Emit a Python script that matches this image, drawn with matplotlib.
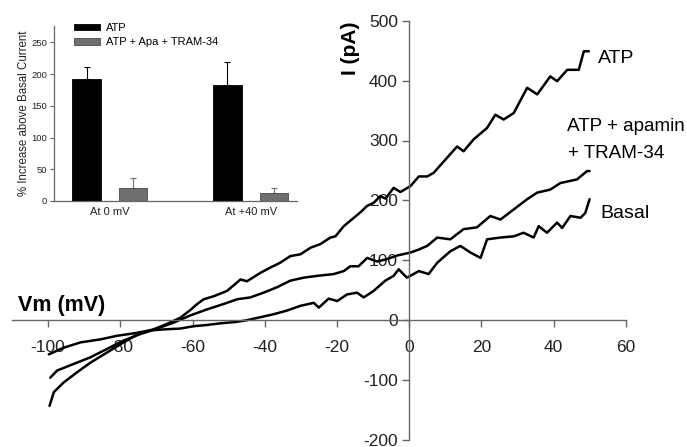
import matplotlib
matplotlib.use("Agg")
import matplotlib.pyplot as plt

plt.rcParams['font.family'] = ['Liberation Sans', 'DejaVu Sans']

# ---------------- main I-V traces ----------------
atp_v = [-99.6, -98.4, -95.7, -92, -88.3, -83.7, -79.1, -74.4, -70.7, -67, -63.4, -60.6,
         -58.7, -56.9, -54.1, -50.4, -46.7, -44.9, -41.2, -38.4, -35.7, -32.9, -30.1, -27.3,
         -24.6, -21.8, -20.4, -18.1, -16.3, -13.5, -11.6, -9.8, -8, -6.5, -4.3, -2.4, 0.4,
         2.7, 5, 6.8, 9.6, 13.3, 15.1, 17.9, 21.6, 23.9, 26.2, 29, 32.7, 35.5, 39.1, 41,
         43.8, 47, 48.4, 49.8]
atp_i = [-143, -120, -104, -87, -71, -54, -37, -21, -15, -6, 4, 17,
         27, 35, 40, 49, 68, 65, 79, 88, 96, 107, 110, 121,
         127, 138, 140, 157, 166, 180, 191, 196, 207, 203, 221, 214, 224,
         240, 240, 246, 265, 290, 282, 302, 321, 343, 335, 346, 388, 377, 407, 399,
         418, 418, 449, 449]

apa_v = [-99.4, -97.5, -92.9, -88.3, -83.7, -79.1, -74.4, -70.7, -65.2, -60.6, -56, -51.4,
         -47.6, -44, -40.3, -36.6, -32.9, -29.2, -25.5, -20.9, -18.1, -16.3, -14, -11.6,
         -8.9, -6.1, -3.3, 0.4, 2.7, 5, 7.8, 11.4, 15.1, 18.8, 22.5, 25.3, 29, 32.7, 35.5,
         39.1, 41.9, 46.5, 49.3, 50]
apa_i = [-96, -84, -73, -62, -48, -34, -23, -16, -4, 8, 18, 27,
         35, 38, 46, 55, 66, 71, 74, 77, 82, 90, 90, 104,
         98, 102, 108, 113, 118, 124, 138, 135, 152, 155, 174, 168, 185, 202, 213,
         218, 229, 235, 249, 249]

bas_v = [-99.8, -95.7, -91, -85.5, -80.9, -76.3, -71.7, -67, -63.4, -59.7, -56, -52, -48,
         -44.9, -41.2, -37.5, -33.9, -30.1, -26.4, -25, -22.3, -19.9, -17.2, -14.4, -12.6,
         -9.8, -6.6, -4.3, -2.9, -0.6, 2.7, 5.4, 7.8, 11.4, 14.2, 17, 19.8, 21.6, 25.3, 29,
         31.7, 34.5, 35.9, 38.2, 41, 42.4, 44.7, 47.5, 48.8, 50]
bas_i = [-57, -46, -37, -32, -26, -22, -17, -15, -14, -10, -8, -5, -3,
         0, 5, 10, 16, 24, 29, 21, 36, 32, 43, 46, 38,
         49, 66, 74, 85, 71, 82, 77, 96, 115, 124, 113, 104, 135, 138, 140,
         146, 138, 157, 146, 163, 154, 174, 171, 179, 202]

x_ticks = [-100, -80, -60, -40, -20, 0, 20, 40, 60]
y_ticks = [-200, -100, 0, 100, 200, 300, 400, 500]

# ---------------- inset bar chart ----------------
groups = ["At 0 mV", "At +40 mV"]
atp_pct = [193, 183]
atp_err = [19, 37]
apa_pct = [21, 12]
apa_err = [15, 9]
inset_ticks = [0, 50, 100, 150, 200, 250]

W, H = 687, 447
fig = plt.figure(figsize=(W / 100, H / 100), dpi=100)

ax = fig.add_axes([12 / W, 7 / H, 613.7 / W, 419.3 / H])
for v, i in [(atp_v, atp_i), (apa_v, apa_i), (bas_v, bas_i)]:
    ax.plot(v, i, color='black', lw=1.8, solid_joinstyle='round', solid_capstyle='round')
ax.set_xlim(-110, 60)
ax.set_ylim(-200, 500)
ax.spines['left'].set_position(('data', 0))
ax.spines['bottom'].set_position(('data', 0))
ax.spines['top'].set_visible(False)
ax.spines['right'].set_visible(False)
for s in ('left', 'bottom'):
    ax.spines[s].set_color('#666666')
    ax.spines[s].set_linewidth(1.0)
ax.set_xticks(x_ticks)
ax.set_yticks(y_ticks)
ax.set_xticklabels([str(t) for t in x_ticks])
ax.set_yticklabels([str(t) for t in y_ticks])
ax.tick_params(axis='x', direction='out', length=5, width=1, color='#666666',
               pad=9, labelsize=12.5, labelcolor='#222222')
ax.tick_params(axis='y', direction='out', length=5, width=1, color='#666666',
               pad=3, labelsize=12.5, labelcolor='#222222')
ax.patch.set_alpha(0)

fig.text(351 / W, 1 - 48 / H, "I (pA)", rotation=90, fontsize=15, fontweight='bold',
         ha='center', va='center')
fig.text(18 / W, 1 - 310.7 / H, "Vm (mV)", fontsize=15.5, fontweight='bold',
         ha='left', va='baseline')
fig.text(598.3 / W, 1 - 63.3 / H, "ATP", fontsize=14, ha='left', va='baseline')
fig.text(566.7 / W, 1 - 130.7 / H, "ATP + apamin", fontsize=13.6, ha='left', va='baseline')
fig.text(567.5 / W, 1 - 158.3 / H, "+ TRAM-34", fontsize=13.6, ha='left', va='baseline')
fig.text(600.7 / W, 1 - 218.3 / H, "Basal", fontsize=14, ha='left', va='baseline')

# inset
ia = fig.add_axes([54 / W, (H - 201) / H, (297 - 54) / W, (201 - 26) / H])
pos = list(range(len(groups)))
off, bw = 0.165, 0.203
grey = '#6f6f6f'
ia.bar([p - off for p in pos], atp_pct, width=bw, color='black', edgecolor='black',
       lw=0.6, label='ATP', zorder=2)
ia.bar([p + off for p in pos], apa_pct, width=bw, color=grey, edgecolor='#4a4a4a',
       lw=0.6, label='ATP + Apa + TRAM-34', zorder=2)
ia.errorbar([p - off for p in pos], atp_pct, yerr=[[0, 0], atp_err], fmt='none',
            ecolor='black', elinewidth=0.8, capsize=2.3, capthick=0.8, zorder=1)
ia.errorbar([p + off for p in pos], apa_pct, yerr=[[0, 0], apa_err], fmt='none',
            ecolor=grey, elinewidth=0.8, capsize=2.3, capthick=0.8, zorder=1)
ia.set_xlim(-0.398, 1.33)
ia.set_ylim(0, 276)
ia.set_xticks(pos)
ia.set_xticklabels(groups)
ia.set_yticks(inset_ticks)
ia.tick_params(axis='x', length=0, pad=4.5, labelsize=8, labelcolor='#222222')
ia.tick_params(axis='y', direction='out', length=3, width=0.8, color='#666666',
               pad=2, labelsize=6.8, labelcolor='#222222')
ia.spines['top'].set_visible(False)
ia.spines['right'].set_visible(False)
for s in ('left', 'bottom'):
    ia.spines[s].set_color('#666666')
    ia.spines[s].set_linewidth(0.9)
ia.patch.set_alpha(0)
fig.text(24 / W, 1 - 113 / H, "% Increase above Basal Current", rotation=90,
         fontsize=8.3, ha='center', va='center', color='#222222')
ia.legend(loc='upper left', bbox_to_anchor=(74 / W, 1 - 23 / H),
          bbox_transform=fig.transFigure, frameon=False, fontsize=8,
          handlelength=2.3, handleheight=0.5, handletextpad=0.6,
          labelspacing=0.4, borderpad=0, borderaxespad=0)

fig.savefig("out.png", dpi=100)
